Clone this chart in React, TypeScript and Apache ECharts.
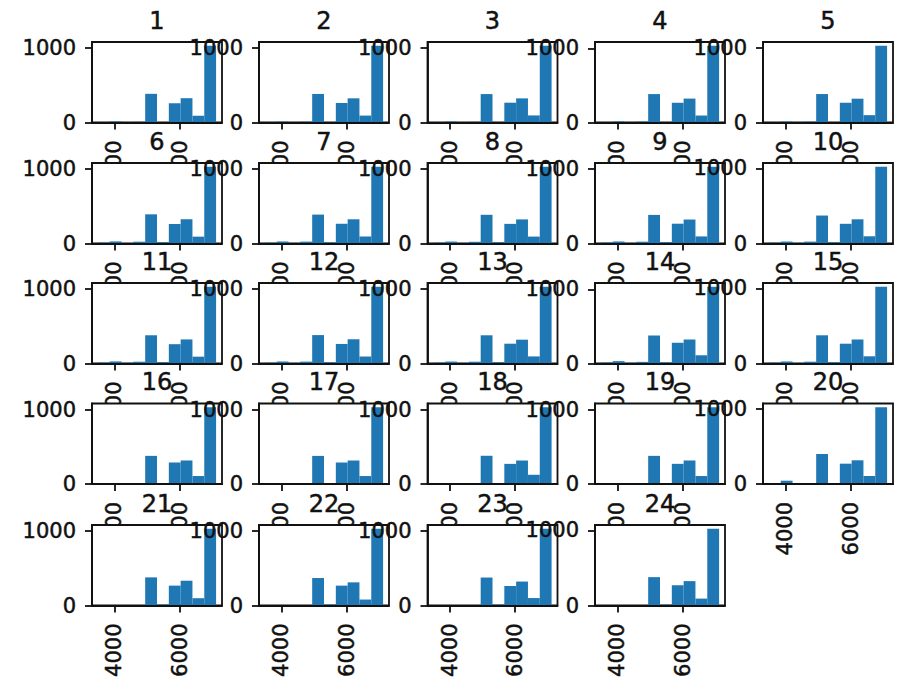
import React, { useEffect, useRef } from "react";
import * as echarts from "echarts";

// Subplot titles, one per histogram panel
const panelTitles = [
  "1", "2", "3", "4", "5",
  "6", "7", "8", "9", "10",
  "11", "12", "13", "14", "15",
  "16", "17", "18", "19", "20",
  "21", "22", "23", "24",
];

// Shared histogram bins (10 equal-width bins)
const binStart = 3490;
const binWidth = 363.5;
const binCount = 10;

// Tick values on each panel
const xTickValues = [4000, 6000];
const yTickValues = [0, 1000];

// Counts per bin for each panel
const panelCounts: number[][] = [
  [2, 14, 1, 9, 386, 4, 259, 327, 91, 1032],
  [1, 12, 1, 10, 384, 5, 262, 325, 93, 1031],
  [2, 13, 2, 9, 382, 5, 266, 324, 95, 1030],
  [1, 14, 1, 11, 383, 4, 266, 322, 94, 1033],
  [2, 12, 2, 10, 380, 5, 264, 318, 98, 1024],
  [12, 28, 8, 24, 392, 18, 262, 326, 92, 1030],
  [11, 27, 9, 25, 388, 17, 265, 325, 94, 1029],
  [12, 26, 8, 23, 386, 18, 264, 324, 93, 1031],
  [13, 27, 9, 24, 384, 19, 266, 322, 95, 1030],
  [12, 26, 9, 25, 372, 18, 262, 322, 96, 1020],
  [12, 28, 9, 24, 380, 19, 260, 324, 92, 1032],
  [11, 27, 8, 25, 382, 18, 263, 326, 94, 1031],
  [12, 26, 9, 24, 379, 18, 266, 320, 95, 1030],
  [13, 32, 9, 22, 378, 16, 280, 324, 111, 1035],
  [12, 27, 8, 24, 376, 18, 264, 320, 96, 1022],
  [5, 6, 4, 5, 378, 12, 289, 316, 107, 1030],
  [4, 6, 4, 5, 378, 11, 289, 316, 107, 1031],
  [5, 7, 4, 6, 380, 12, 271, 316, 124, 1032],
  [4, 6, 5, 5, 378, 11, 271, 316, 107, 1030],
  [0, 44, 6, 4, 400, 12, 271, 316, 107, 1022],
  [0, 5, 4, 5, 378, 14, 267, 333, 98, 1030],
  [1, 8, 3, 6, 369, 15, 267, 311, 80, 1030],
  [1, 7, 4, 6, 376, 14, 262, 322, 100, 1031],
  [0, 5, 4, 5, 378, 13, 270, 325, 92, 1022],
];

// Layout of the 5x5 subplot grid
const CHART_W = 899;
const CHART_H = 691;
const colLeft = [92, 259, 427.5, 595, 763];
const rowTop = [42, 163, 283, 403.5, 525];
const plotW = 130;
const plotH = 80.5;
const NCOLS = 5;

const FONT = "DejaVu Sans";
const TICK_FONT = 21;
const TITLE_FONT = 24;
const BAR_COLOR = "#1f77b4";
const INK = "#111";
const LINE_W = 1.8;

// Slight stroke so the glyphs carry the same weight as the printed figure
const textWeight = { textBorderColor: INK, textBorderWidth: 0.5 };

const plainNumber = (v: number) => String(Math.round(v));

function buildOption() {
  const binEnd = binStart + binWidth * binCount;
  const span = binEnd - binStart;
  const xMin = binStart - span * 0.05;
  const xMax = binEnd + span * 0.05;

  const grids: any[] = [];
  const xAxes: any[] = [];
  const yAxes: any[] = [];
  const series: any[] = [];
  const titles: any[] = [];

  panelCounts.forEach((counts, i) => {
    const r = Math.floor(i / NCOLS);
    const c = i % NCOLS;
    const base = i * 3 + 1;
    const yMax = Math.max(...counts) * 1.05;

    grids.push({
      left: colLeft[c],
      top: rowTop[r],
      width: plotW,
      height: plotH,
      show: true,
      backgroundColor: "#fff",
      borderColor: INK,
      borderWidth: LINE_W,
      z: base,
    });

    xAxes.push({
      type: "value",
      gridIndex: i,
      min: xMin,
      max: xMax,
      z: base + 2,
      axisLine: { show: true, onZero: false, lineStyle: { color: INK, width: LINE_W } },
      axisTick: {
        show: true,
        length: 7,
        customValues: xTickValues,
        lineStyle: { color: INK, width: LINE_W },
      },
      axisLabel: {
        customValues: xTickValues,
        formatter: plainNumber,
        rotate: 90,
        margin: 18,
        fontFamily: FONT,
        fontSize: TICK_FONT,
        color: INK,
        ...textWeight,
      },
      splitLine: { show: false },
    });

    yAxes.push({
      type: "value",
      gridIndex: i,
      min: 0,
      max: yMax,
      z: base + 2,
      axisLine: { show: true, lineStyle: { color: INK, width: LINE_W } },
      axisTick: {
        show: true,
        length: 7,
        customValues: yTickValues,
        lineStyle: { color: INK, width: LINE_W },
      },
      axisLabel: {
        customValues: yTickValues,
        formatter: plainNumber,
        margin: 16,
        fontFamily: FONT,
        fontSize: TICK_FONT,
        color: INK,
        ...textWeight,
      },
      splitLine: { show: false },
    });

    series.push({
      type: "custom",
      xAxisIndex: i,
      yAxisIndex: i,
      z: base + 1,
      silent: true,
      encode: { x: [0, 1], y: 2 },
      data: counts.map((n, b) => [binStart + b * binWidth, binStart + (b + 1) * binWidth, n]),
      renderItem: (params: any, api: any) => {
        const p0 = api.coord([api.value(0), 0]);
        const p1 = api.coord([api.value(1), api.value(2)]);
        return {
          type: "rect",
          shape: { x: p0[0], y: p1[1], width: p1[0] - p0[0], height: p0[1] - p1[1] },
          style: { fill: BAR_COLOR },
        };
      },
    });

    titles.push({
      type: "text",
      x: colLeft[c] + plotW / 2,
      y: rowTop[r] - 21.5,
      z: 200,
      silent: true,
      style: {
        text: panelTitles[i],
        fontFamily: FONT,
        fontSize: TITLE_FONT,
        fill: INK,
        stroke: INK,
        lineWidth: 0.5,
        align: "center",
        verticalAlign: "middle",
      },
    });
  });

  return {
    animation: false,
    backgroundColor: "#fff",
    grid: grids,
    xAxis: xAxes,
    yAxis: yAxes,
    series,
    graphic: { elements: titles },
  };
}

export default function App() {
  const ref = useRef<HTMLDivElement>(null);

  useEffect(() => {
    if (!ref.current) return;
    const chart = echarts.init(ref.current, undefined, { renderer: "svg" });
    chart.setOption(buildOption());
    return () => chart.dispose();
  }, []);

  return (
    <div
      ref={ref}
      style={{ position: "fixed", left: 0, top: 0, width: CHART_W, height: CHART_H, background: "#fff" }}
    />
  );
}
